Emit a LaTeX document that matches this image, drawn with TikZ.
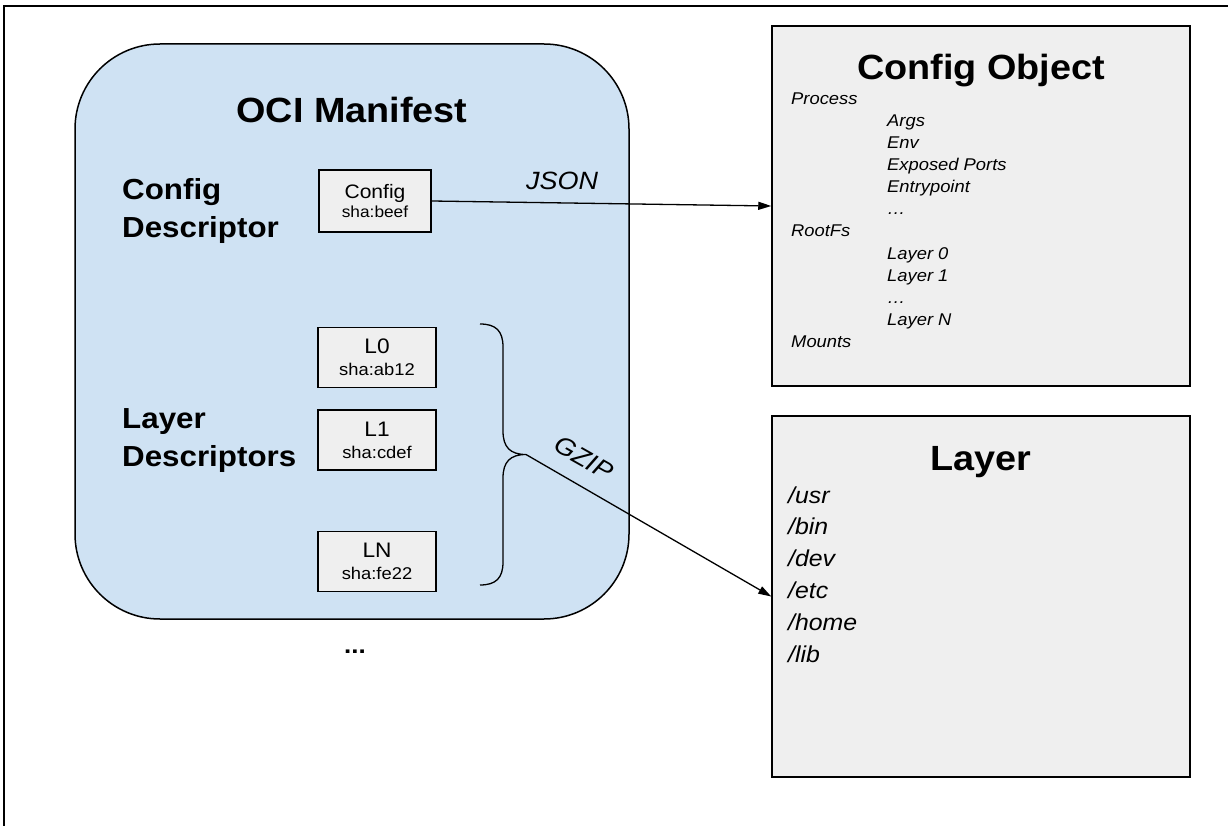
\documentclass[tikz,border=0pt]{standalone}
\usepackage{fontspec}
\setmainfont{Liberation Sans}[FakeStretch=1.08]
\usetikzlibrary{arrows.meta}

\definecolor{manifestblue}{HTML}{CFE2F3}
\definecolor{boxgray}{HTML}{EFEFEF}

\tikzset{
  manifest/.style={draw, line width=1.5pt, fill=manifestblue, rounded corners=85pt,
    minimum width=554pt, minimum height=575pt},
  descbox/.style={draw, line width=1.5pt, fill=boxgray, align=center, inner sep=0pt,
    minimum width=118pt, minimum height=60pt, font=\fontsize{21}{22}\selectfont},
  objbox/.style={draw, line width=1.5pt, fill=boxgray, inner sep=0pt,
    minimum width=418pt, minimum height=360pt},
  bigtitle/.style={inner sep=0pt, font=\bfseries\fontsize{35}{40}\selectfont},
  section/.style={inner sep=0pt, align=left, font=\bfseries\fontsize{29}{38}\selectfont},
  cfgtext/.style={inner sep=0pt, font=\itshape\fontsize{17}{20}\selectfont},
  dirtext/.style={inner sep=0pt, font=\itshape\fontsize{23}{26}\selectfont},
  linklabel/.style={inner sep=0pt, font=\itshape\fontsize{25}{28}\selectfont},
  link/.style={line width=1.3pt, -{Triangle[length=13pt,width=8pt]}},
}

\begin{document}
\begin{tikzpicture}[x=1pt, y=-1pt]

    % Fix the page to the size of the picture
    \useasboundingbox (0,0) rectangle (1228,826);

    % Outer frame (cut off at the right and the bottom)
    \draw[line width=1.5pt] (4,830) -- (4,6) -- (1232,6);

    % The manifest
    \node[manifest] (manifest) at (352,331.5) {};
    \node[bigtitle, anchor=base] (manifesttitle) at (352,123) {OCI Manifest};

    % Config descriptor
    \node[section, anchor=west] (cfglabel) at (122,211) {Config\\Descriptor};
    \node[descbox, minimum width=112pt, minimum height=62pt,
          font=\fontsize{19.5}{19}\selectfont] (cfgdesc) at (375,201)
          {Config\\{\fontsize{16}{19}\selectfont sha:beef}};

    % Layer descriptors
    \node[section, anchor=west] (layerlabel) at (122,441) {Layer\\Descriptors};
    \node[descbox] (l0) at (377,357.5) {L0\\{\fontsize{17}{22}\selectfont sha:ab12}};
    \node[descbox] (l1) at (377,440) {L1\\{\fontsize{17}{22}\selectfont sha:cdef}};
    \node[descbox] (ln) at (377,561.5) {LN\\{\fontsize{17}{22}\selectfont sha:fe22}};

    % Brace round the layers, its tip starts the gzip link
    \coordinate (gziptip) at (526,454.5);
    \draw[line width=1.3pt] (480,324) .. controls (496,324) and (503,331) .. (503,347)
        -- (503,431) .. controls (503,447) and (510,454.5) .. (gziptip)
        .. controls (510,454.5) and (503,462) .. (503,478)
        -- (503,562) .. controls (503,578) and (496,585) .. (480,585);

    % More manifests
    \node[inner sep=0pt, font=\bfseries\fontsize{24}{26}\selectfont] (more) at (355,652) {...};

    % Config object
    \node[objbox] (cfgobj) at (981,206) {};
    \node[bigtitle, anchor=base] (cfgobjtitle) at (981,80) {Config Object};
    \foreach \xx/\entry [count=\i] in {791/Process, 887/Args, 887/Env, 887/Exposed Ports,
        887/Entrypoint, 887/\ldots, 791/RootFs, 887/Layer 0, 887/Layer 1, 887/\ldots,
        887/Layer N, 791/Mounts}
      \node[cfgtext, anchor=base west] (cfg\i) at (\xx,83+22*\i) {\entry};

    % Layer object
    \node[objbox, minimum height=361pt] (layerobj) at (981,596.5) {};
    \node[bigtitle, anchor=base] (layertitle) at (981,470) {Layer};
    \foreach \dirname [count=\i] in {usr, bin, dev, etc, home, lib}
      \node[dirtext, anchor=base west] (dir\i) at (788,471.2+31.8*\i) {/\dirname};

    % Links
    \draw[link] (cfgdesc.east) -- (cfgobj.west);
    \node[linklabel, anchor=base] (json) at (562,190) {JSON};
    \draw[link] (gziptip) -- (layerobj.west);
    \node[linklabel, rotate=-29.5] (gzip) at (584,458) {GZIP};

\end{tikzpicture}
\end{document}
